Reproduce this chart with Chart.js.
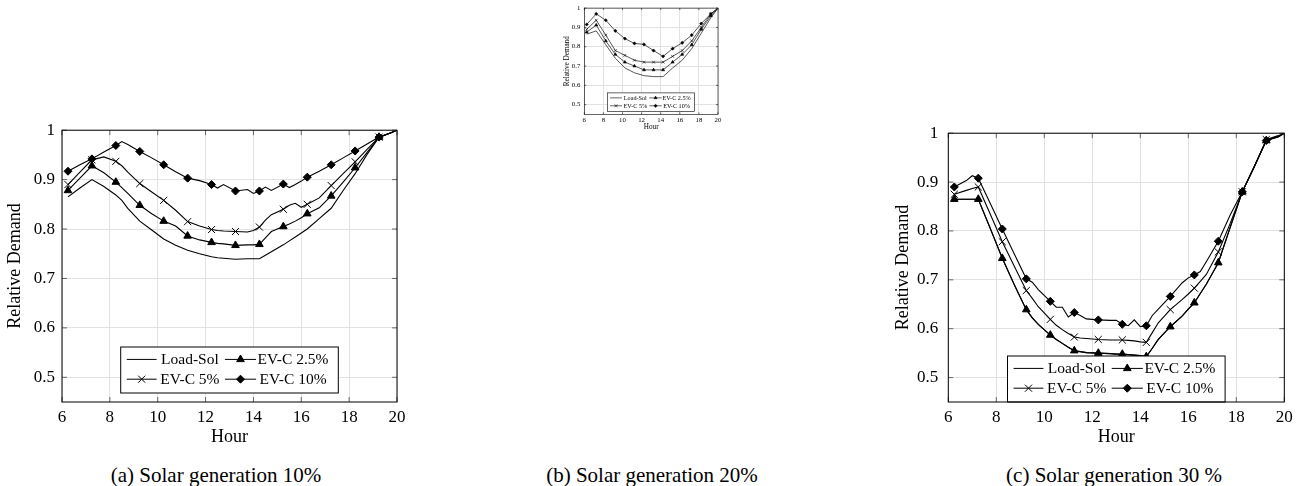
<!DOCTYPE html>
<html>
<head>
<meta charset="utf-8">
<script src="https://cdn.jsdelivr.net/npm/chart.js@4.4.1/dist/chart.umd.min.js"></script>
<style>
  body { margin: 0; background: #fff; width: 1304px; height: 486px; position: relative; overflow: hidden; font-family: "Liberation Serif", serif; }
  canvas { position: absolute; }
  .cap { position: absolute; font-size: 21px; color: #000; white-space: nowrap; transform: translate(-50%, -50%); }
</style>
</head>
<body>
<canvas id="chartA" width="420" height="345" style="left:0;top:113px"></canvas>
<canvas id="chartB" width="190" height="135" style="left:540px;top:0"></canvas>
<canvas id="chartC" width="414" height="345" style="left:890px;top:113px"></canvas>
<div class="cap" id="capA" style="left:216px;top:475px"></div>
<div class="cap" id="capB" style="left:652px;top:475px"></div>
<div class="cap" id="capC" style="left:1114px;top:475px"></div>
<script>
// axis ticks shared by the three panels
var xTicks = [6, 8, 10, 12, 14, 16, 18, 20];
var yTicks = [0.5, 0.6, 0.7, 0.8, 0.9, 1];
var seriesNames = ['Load-Sol', 'EV-C 2.5%', 'EV-C 5%', 'EV-C 10%'];
var captions = ['(a) Solar generation 10%', '(b) Solar generation 20%', '(c) Solar generation 30 %'];

// (a) solar 10%
var hoursA = [6.25, 6.75, 7.25, 7.75, 8.25, 8.5, 8.75, 9.25, 9.75, 10.25, 10.75, 11.25, 11.75, 12.25, 12.5, 12.75, 13.25, 13.75, 14, 14.25, 14.5, 14.75, 15.25, 15.5, 15.75, 16, 16.25, 16.75, 17.25, 17.75, 18.25, 18.75, 19.25, 19.75, 20];
var loadSolA = [0.865, 0.883, 0.900, 0.886, 0.869, 0.858, 0.842, 0.816, 0.798, 0.780, 0.767, 0.757, 0.750, 0.744, 0.742, 0.741, 0.739, 0.740, 0.740, 0.740, 0.747, 0.754, 0.768, 0.776, 0.784, 0.792, 0.800, 0.821, 0.842, 0.878, 0.912, 0.951, 0.986, 0.995, 1];
var ev25A = [0.878, 0.903, 0.928, 0.914, 0.895, 0.884, 0.872, 0.848, 0.831, 0.816, 0.806, 0.786, 0.778, 0.773, 0.771, 0.770, 0.767, 0.768, 0.768, 0.769, 0.782, 0.795, 0.805, 0.810, 0.816, 0.823, 0.831, 0.843, 0.867, 0.895, 0.924, 0.955, 0.986, 0.995, 1];
var ev5A = [0.890, 0.915, 0.940, 0.946, 0.937, 0.928, 0.915, 0.892, 0.875, 0.858, 0.838, 0.815, 0.806, 0.799, 0.797, 0.796, 0.795, 0.794, 0.797, 0.804, 0.818, 0.829, 0.840, 0.848, 0.852, 0.844, 0.850, 0.863, 0.888, 0.912, 0.936, 0.961, 0.986, 0.995, 1];
var ev10A = [0.917, 0.930, 0.942, 0.956, 0.969, 0.977, 0.971, 0.957, 0.944, 0.930, 0.916, 0.903, 0.898, 0.890, 0.883, 0.890, 0.877, 0.880, 0.872, 0.877, 0.885, 0.878, 0.891, 0.884, 0.890, 0.897, 0.905, 0.917, 0.930, 0.944, 0.958, 0.972, 0.986, 0.995, 1];

// (b) solar 20%
var hoursB = [6.25, 7.25, 8.25, 9.25, 10.25, 11.25, 12.25, 13.25, 14.25, 15.25, 16.25, 17.25, 18.25, 19.25, 20];
var loadSolB = [0.865, 0.882, 0.81, 0.74, 0.69, 0.665, 0.65, 0.645, 0.645, 0.69, 0.73, 0.79, 0.87, 0.95, 1];
var ev25B = [0.875, 0.912, 0.83, 0.76, 0.72, 0.70, 0.68, 0.68, 0.68, 0.72, 0.76, 0.81, 0.89, 0.96, 1];
var ev5B = [0.89, 0.937, 0.86, 0.78, 0.755, 0.73, 0.72, 0.72, 0.72, 0.75, 0.78, 0.83, 0.90, 0.97, 1];
var ev10B = [0.915, 0.970, 0.937, 0.882, 0.842, 0.817, 0.812, 0.78, 0.75, 0.79, 0.82, 0.86, 0.92, 0.97, 1];

// (c) solar 30%
var hoursC = [6.25, 6.75, 7, 7.25, 7.75, 8.25, 8.75, 9.25, 9.5, 9.75, 10.25, 10.5, 10.75, 11, 11.25, 11.5, 11.75, 12.25, 12.75, 13, 13.25, 13.5, 13.75, 14, 14.25, 14.5, 14.75, 15.25, 15.75, 16, 16.25, 16.5, 16.75, 17.25, 17.75, 18.25, 18.75, 19.25, 19.75, 20];
var loadSolC = [0.865, 0.865, 0.865, 0.865, 0.805, 0.744, 0.690, 0.639, 0.622, 0.609, 0.587, 0.578, 0.570, 0.562, 0.555, 0.553, 0.551, 0.550, 0.549, 0.548, 0.548, 0.547, 0.546, 0.545, 0.543, 0.560, 0.578, 0.604, 0.626, 0.640, 0.653, 0.672, 0.691, 0.735, 0.808, 0.880, 0.932, 0.985, 0.993, 1];
var ev25C = [0.865, 0.865, 0.865, 0.865, 0.805, 0.744, 0.690, 0.639, 0.622, 0.609, 0.587, 0.578, 0.570, 0.562, 0.555, 0.553, 0.551, 0.550, 0.549, 0.548, 0.548, 0.547, 0.546, 0.545, 0.543, 0.560, 0.578, 0.604, 0.626, 0.640, 0.653, 0.672, 0.691, 0.735, 0.808, 0.880, 0.932, 0.985, 0.993, 1];
var ev5C = [0.875, 0.883, 0.887, 0.890, 0.834, 0.778, 0.728, 0.678, 0.662, 0.645, 0.619, 0.607, 0.598, 0.590, 0.583, 0.581, 0.580, 0.578, 0.577, 0.577, 0.577, 0.576, 0.575, 0.573, 0.572, 0.592, 0.612, 0.639, 0.660, 0.671, 0.683, 0.697, 0.711, 0.757, 0.816, 0.880, 0.931, 0.987, 0.995, 1];
var ev10C = [0.890, 0.903, 0.913, 0.908, 0.856, 0.804, 0.753, 0.702, 0.695, 0.680, 0.656, 0.644, 0.644, 0.624, 0.633, 0.627, 0.620, 0.618, 0.617, 0.617, 0.609, 0.606, 0.618, 0.604, 0.606, 0.627, 0.640, 0.666, 0.694, 0.704, 0.710, 0.717, 0.737, 0.779, 0.833, 0.880, 0.932, 0.985, 0.993, 1];

var styles = [
  { pointStyle: false, r: 0 },
  { pointStyle: 'triangle', r: 4.4 },
  { pointStyle: 'crossRot', r: 5 },
  { pointStyle: 'rectRot', r: 4 }
];
var serif = '"Liberation Serif", "Times New Roman", serif';

function toPoints(hours, vals) {
  return hours.map(function(h, i) { return { x: h, y: vals[i] }; });
}
function isMark(x) {
  return x < 20 && Math.abs((x - 0.25) - Math.round(x - 0.25)) < 1e-6;
}

function drawMark(ctx, style, x, y, r) {
  ctx.beginPath();
  if (style === 'triangle') {
    ctx.moveTo(x, y - r);
    ctx.lineTo(x + r * 0.866, y + r * 0.5);
    ctx.lineTo(x - r * 0.866, y + r * 0.5);
    ctx.closePath(); ctx.fill(); ctx.stroke();
  } else if (style === 'rectRot') {
    ctx.moveTo(x - r, y); ctx.lineTo(x, y - r); ctx.lineTo(x + r, y); ctx.lineTo(x, y + r);
    ctx.closePath(); ctx.fill(); ctx.stroke();
  } else if (style === 'crossRot') {
    var d = r * 0.707;
    ctx.moveTo(x - d, y - d); ctx.lineTo(x + d, y + d);
    ctx.moveTo(x + d, y - d); ctx.lineTo(x - d, y + d);
    ctx.stroke();
  }
}

// frame, inner tick marks and the boxed legend (pgfplots look)
var pgfPlugin = {
  id: 'pgf',
  afterDatasetsDraw: function(chart, args, o) {
    var ctx = chart.ctx, a = chart.chartArea;
    var xs = chart.scales.x, ys = chart.scales.y;
    ctx.save();
    ctx.strokeStyle = '#666';
    ctx.lineWidth = 1;
    ctx.beginPath();
    xTicks.forEach(function(v) {
      var p = xs.getPixelForValue(v);
      ctx.moveTo(p, a.top); ctx.lineTo(p, a.top + o.tick);
      ctx.moveTo(p, a.bottom); ctx.lineTo(p, a.bottom - o.tick);
    });
    yTicks.forEach(function(v) {
      var p = ys.getPixelForValue(v);
      ctx.moveTo(a.left, p); ctx.lineTo(a.left + o.tick, p);
      ctx.moveTo(a.right, p); ctx.lineTo(a.right - o.tick, p);
    });
    ctx.stroke();

    // legend
    var W = o.lw, H = o.lh;
    var bx = (a.left + a.right) / 2 - W / 2;
    var by = a.bottom - o.lgap - H;
    ctx.fillStyle = '#fff';
    ctx.fillRect(bx, by, W, H);
    ctx.strokeStyle = '#000';
    ctx.lineWidth = o.lwidth;
    ctx.strokeRect(bx, by, W, H);
    ctx.font = o.lfont + 'px ' + serif;
    ctx.textAlign = 'center';
    ctx.textBaseline = 'middle';
    var cols = [[0.028, 0.165, 0.318], [0.479, 0.622, 0.792]];
    var rows = [0.27, 0.70];
    chart.data.datasets.forEach(function(ds, i) {
      var c = cols[i % 2], ry = by + rows[Math.floor(i / 2)] * H;
      var x0 = bx + c[0] * W, x1 = bx + c[1] * W;
      ctx.strokeStyle = '#000'; ctx.fillStyle = '#000';
      ctx.lineWidth = o.lwidth;
      ctx.beginPath(); ctx.moveTo(x0, ry); ctx.lineTo(x1, ry); ctx.stroke();
      if (styles[i].pointStyle) drawMark(ctx, styles[i].pointStyle, (x0 + x1) / 2, ry, styles[i].r * o.mscale);
      ctx.fillText(ds.label, bx + c[2] * W, ry + 0.5);
    });

    ctx.strokeStyle = '#000';
    ctx.lineWidth = o.lwidth;
    ctx.strokeRect(a.left, a.top, a.right - a.left, a.bottom - a.top);
    ctx.restore();
  }
};

function makeChart(id, hours, series, cfg) {
  var s = cfg.s;
  var datasets = series.map(function(vals, i) {
    var st = styles[i];
    return {
      label: seriesNames[i],
      data: toPoints(hours, vals),
      borderColor: '#000',
      backgroundColor: '#000',
      borderWidth: 1.1 * Math.max(s, 0.6),
      tension: 0,
      pointStyle: st.pointStyle || 'circle',
      pointRadius: function(c) { return st.pointStyle && isMark(c.raw.x) ? st.r * s : 0; },
      pointHoverRadius: 0,
      pointBorderWidth: Math.max(s, 0.6),
      pointBorderColor: '#000',
      pointBackgroundColor: '#000'
    };
  });

  return new Chart(document.getElementById(id), {
    type: 'line',
    data: { datasets: datasets },
    plugins: [pgfPlugin],
    options: {
      responsive: false,
      animation: false,
      events: [],
      layout: { padding: { top: cfg.pt, right: cfg.pr, left: 0, bottom: 0 } },
      plugins: {
        legend: { display: false },
        tooltip: { enabled: false },
        pgf: { tick: cfg.tick, lw: 217.6 * s, lh: 46 * s, lgap: cfg.lgap, lfont: 15.5 * s, lwidth: Math.max(s, 0.6), mscale: s }
      },
      scales: {
        x: {
          type: 'linear', min: 6, max: 20,
          afterBuildTicks: function(sc) { sc.ticks = xTicks.map(function(v) { return { value: v }; }); },
          afterFit: function(sc) { sc.height = cfg.xh; },
          grid: { color: '#e2e2e2', drawTicks: false },
          border: { display: false },
          ticks: { color: '#000', padding: cfg.xpad, maxRotation: 0, autoSkip: false, font: { family: serif, size: 17 * s } },
          title: { display: true, text: 'Hour', color: '#000', padding: { top: 0, bottom: cfg.xtpad }, font: { family: serif, size: 18 * s } }
        },
        y: {
          type: 'linear', min: 0.45, max: 1,
          afterBuildTicks: function(sc) { sc.ticks = yTicks.map(function(v) { return { value: v }; }); },
          afterFit: function(sc) { sc.width = cfg.yw; },
          grid: { color: '#e2e2e2', drawTicks: false },
          border: { display: false },
          ticks: { color: '#000', padding: cfg.ypad, autoSkip: false, font: { family: serif, size: 17 * s },
            callback: function(v) { return String(v); } },
          title: { display: true, text: 'Relative Demand', color: '#000', padding: { top: cfg.ytpad, bottom: 0 }, font: { family: serif, size: 18 * s } }
        }
      }
    }
  });
}

makeChart('chartA', hoursA, [loadSolA, ev25A, ev5A, ev10A],
  { s: 1, pt: 10.3, pr: 23, xh: 56, yw: 62, xpad: 5, xtpad: 10, ypad: 7, ytpad: 4, tick: 5, lgap: 9 });
makeChart('chartB', hoursB, [loadSolB, ev25B, ev5B, ev10B],
  { s: 0.4, pt: 5.7, pr: 12, xh: 20.7, yw: 44.3, xpad: 2, xtpad: 4, ypad: 4, ytpad: 22.7, tick: 2, lgap: 3 });
makeChart('chartC', hoursC, [loadSolC, ev25C, ev5C, ev10C],
  { s: 1, pt: 10.3, pr: 19.7, xh: 56, yw: 58.3, xpad: 5, xtpad: 10, ypad: 10, ytpad: 2, tick: 5, lgap: 0 });

document.getElementById('capA').textContent = captions[0];
document.getElementById('capB').textContent = captions[1];
document.getElementById('capC').textContent = captions[2];
</script>
</body>
</html>
